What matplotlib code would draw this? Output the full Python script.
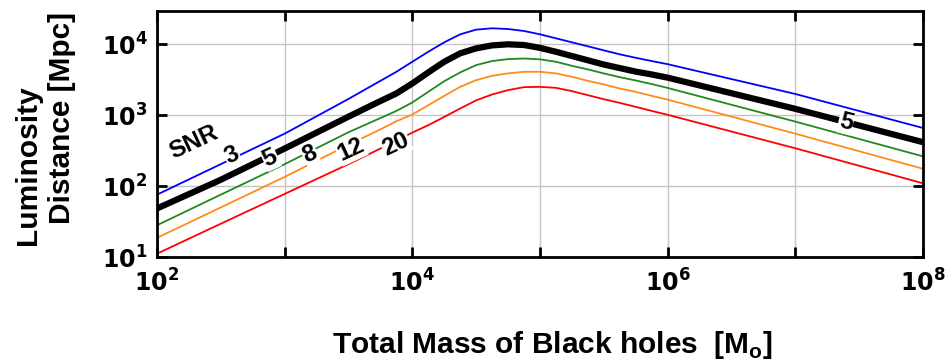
import numpy as np
import matplotlib.pyplot as plt
from matplotlib.ticker import FixedLocator, FuncFormatter, NullLocator

# log10 of total mass of the binary [M_sun]
log_mass = [2.0, 2.5, 3.0, 3.5, 3.75, 3.875, 4.0, 4.125, 4.25, 4.375,
            4.5, 4.625, 4.75, 4.875, 5.0, 5.125, 5.25, 5.375, 5.5,
            5.625, 5.75, 5.875, 6.0, 7.0, 8.0]

# log10 of luminosity distance [Mpc] reached at each SNR
snr = [3, 5, 8, 12, 20]
log_dist_snr3 = [1.88, 2.31, 2.74, 3.23, 3.485, 3.612, 3.754, 3.895, 4.028,
                 4.141, 4.207, 4.226, 4.216, 4.188, 4.141, 4.085, 4.028,
                 3.972, 3.915, 3.859, 3.81, 3.764, 3.72, 3.30, 2.82]
log_dist_snr5 = [1.685, 2.09, 2.53, 2.98, 3.20, 3.307, 3.448, 3.604, 3.754,
                 3.873, 3.943, 3.985, 4.0, 3.99, 3.95, 3.895, 3.835,
                 3.775, 3.715, 3.665, 3.615, 3.575, 3.53, 3.09, 2.62]
log_dist_snr8 = [1.448, 1.88, 2.31, 2.76, 2.96, 3.06, 3.18, 3.33, 3.48,
                 3.604, 3.707, 3.764, 3.792, 3.80, 3.788, 3.754, 3.697,
                 3.646, 3.59, 3.537, 3.49, 3.44, 3.385, 2.91, 2.42]
log_dist_snr12 = [1.27, 1.70, 2.13, 2.585, 2.80, 2.915, 3.01, 3.141, 3.273,
                  3.40, 3.495, 3.556, 3.59, 3.613, 3.613, 3.59, 3.542,
                  3.485, 3.434, 3.377, 3.33, 3.273, 3.22, 2.74, 2.245]
log_dist_snr20 = [1.047, 1.47, 1.89, 2.31, 2.53, 2.64, 2.755, 2.86, 2.976,
                  3.095, 3.21, 3.293, 3.354, 3.396, 3.40, 3.386, 3.34,
                  3.283, 3.226, 3.174, 3.118, 3.061, 3.006, 2.534, 2.04]

log_dists = [log_dist_snr3, log_dist_snr5, log_dist_snr8,
             log_dist_snr12, log_dist_snr20]
colors = ['#0000ff', '#000000', '#1f8a1f', '#ff8c1a', '#ff0000']
widths = [1.3, 4.5, 1.3, 1.3, 1.3]

# inline label spots (log10 mass, log10 distance)
label_pos = [(2.588, 2.43), (2.886, 2.40), (3.199, 2.447),
             (3.518, 2.518), (3.871, 2.59)]


def decade_fmt(even_only):
    def fmt(v, pos):
        e = int(round(np.log10(v)))
        if even_only and e % 2:
            return ''
        return r'$\mathbf{10^{%d}}$' % e
    return fmt


def main():
    plt.rcParams['mathtext.fontset'] = 'dejavusans'
    fig = plt.figure(figsize=(9.48, 3.61), dpi=100)
    ax = fig.add_axes([0.1656, 0.288, 0.808, 0.6815])

    m = 10.0 ** np.array(log_mass)
    for ld, c, lw in zip(log_dists, colors, widths):
        ax.plot(m, 10.0 ** np.array(ld), color=c, lw=lw,
                solid_capstyle='butt', solid_joinstyle='round', zorder=3)

    ax.set_xscale('log')
    ax.set_yscale('log')
    ax.set_xlim(1e2, 1e8)
    ax.set_ylim(10, 2.95e4)

    ax.xaxis.set_major_locator(FixedLocator([10.0 ** k for k in range(2, 9)]))
    ax.xaxis.set_major_formatter(FuncFormatter(decade_fmt(True)))
    ax.xaxis.set_minor_locator(NullLocator())
    ax.yaxis.set_major_locator(FixedLocator([10.0 ** k for k in range(1, 5)]))
    ax.yaxis.set_major_formatter(FuncFormatter(decade_fmt(False)))
    ax.yaxis.set_minor_locator(NullLocator())

    ax.grid(True, color='#c4c4c4', lw=1.0, zorder=0)
    ax.tick_params(which='major', direction='in', length=7, width=2,
                   top=True, right=True, labelsize=17, color='black')
    ax.tick_params(axis='x', pad=9)
    ax.tick_params(axis='y', pad=7)
    for sp in ax.spines.values():
        sp.set_linewidth(2)
        sp.set_zorder(5)

    font = dict(family='Liberation Sans', fontweight='bold')
    box = dict(facecolor='white', edgecolor='none', pad=0.6)
    for s, (lx, ly) in zip(snr, label_pos):
        ax.text(10 ** lx, 10 ** ly, str(s), fontsize=17.5,
                ha='center', va='center', rotation=25, zorder=4,
                bbox=box, **font)
    ax.text(10 ** 2.29, 10 ** 2.622, 'SNR', fontsize=17.5,
            ha='center', va='center', rotation=25, zorder=4, **font)
    ax.text(10 ** 7.397, 10 ** 2.905, '5', fontsize=17.5,
            ha='center', va='center', rotation=-14, zorder=4,
            bbox=box, **font)

    fig.text(0.583, 0.045, r'Total Mass of Black holes  [M$_\mathregular{o}$]',
             fontsize=21.5, fontweight='bold', ha='center', va='center',
             family='Liberation Sans')
    fig.text(0.030, 0.543, 'Luminosity', fontsize=21.5, fontweight='bold',
             rotation=90, ha='center', va='center', family='Liberation Sans')
    fig.text(0.065, 0.673, 'Distance [Mpc]', fontsize=21.5, fontweight='bold',
             rotation=90, ha='center', va='center', family='Liberation Sans')

    fig.savefig('out.png', dpi=100)
    return 0


if __name__ == "__main__":
    main()
